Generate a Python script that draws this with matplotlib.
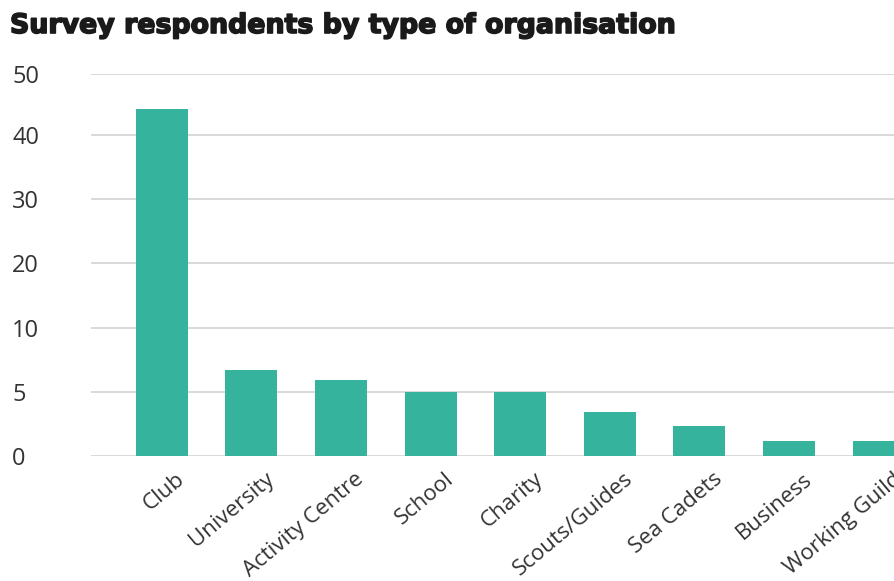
import numpy as np
import matplotlib
matplotlib.use("Agg")
import matplotlib.pyplot as plt
import matplotlib.patheffects as pe
from matplotlib.transforms import ScaledTranslation

categories = ["Club", "University", "Activity Centre", "School", "Charity",
              "Scouts/Guides", "Sea Cadets", "Business", "Working Guild"]
values = [44.3, 6.7, 5.9, 5.0, 5.0, 3.4, 2.3, 1.2, 1.2]
tick_values = [0, 5, 10, 20, 30, 40, 50]
tick_labels = ["0", "5", "10", "20", "30", "40", "50"]

# equal spacing between gridlines (the top interval is drawn slightly shorter)
steps = np.array([0, 1, 2, 3, 4, 5, 5 + 61 / 64.2])

def fwd(y):
    return np.interp(y, tick_values, steps)

def inv(z):
    return np.interp(z, steps, tick_values)

W, H = 894, 581
fig = plt.figure(figsize=(W / 100, H / 100), dpi=100)
ax = fig.add_axes([91 / W, (H - 456) / H, (W - 91) / W, (456 - 74) / H])
ax.set_yscale("function", functions=(fwd, inv))

x = np.arange(len(categories))
ax.bar(x, values, width=0.58, color="#35b39d", zorder=3)

ax.set_ylim(0, 50)
ax.set_xlim(-0.787, 8.17)
ax.set_yticks(tick_values)
ax.set_yticklabels(tick_labels)
ax.yaxis.set_minor_locator(matplotlib.ticker.NullLocator())
ax.grid(axis="y", color="#d3d3d3", linewidth=1.2, zorder=0)
for s in ax.spines.values():
    s.set_visible(False)
ax.tick_params(axis="y", length=0, pad=79 * 0.72, labelsize=17, labelcolor="#333333")
for lab in ax.get_yticklabels():
    lab.set_ha("left")
    lab.set_family("Open Sans")

ax.set_xticks(x)
ax.set_xticklabels(categories, rotation=40, ha="right", va="top",
                   fontsize=16, color="#333333", family="Open Sans")
ax.tick_params(axis="x", length=0, pad=9)
offset = ScaledTranslation(27 / 100, 0, fig.dpi_scale_trans)
for lab in ax.get_xticklabels():
    lab.set_transform(lab.get_transform() + offset)

fig.text(10 / W, 1 - 33 / H, "Survey respondents by type of organisation",
         fontsize=19.3, fontweight="bold", family="DejaVu Sans", color="#1a1a1a",
         ha="left", va="baseline",
         path_effects=[pe.withStroke(linewidth=1.2, foreground="#1a1a1a")])

fig.savefig("out.png", dpi=100)
